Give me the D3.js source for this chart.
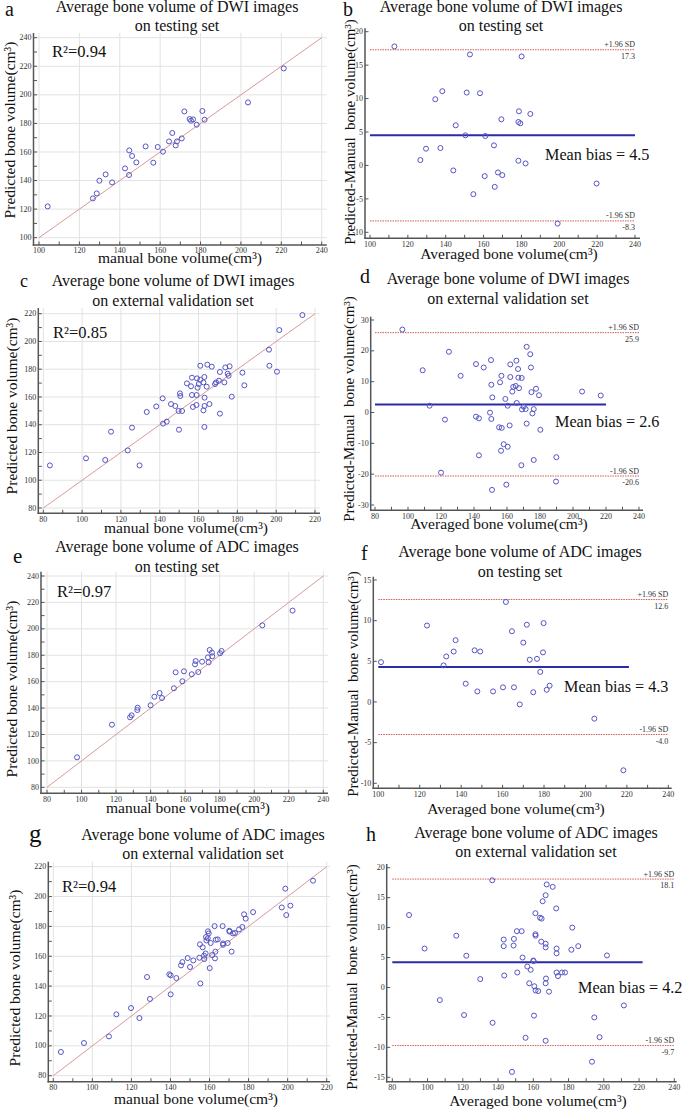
<!DOCTYPE html>
<html><head><meta charset="utf-8">
<script src="https://cdn.jsdelivr.net/npm/d3@7"></script>
<style>
html,body{margin:0;padding:0;background:#fff;}
svg{display:block;font-family:"Liberation Serif","Times New Roman",serif;}
</style></head>
<body><svg id="chart" width="685" height="1111"></svg>
<script>
// ---------------- DATA ----------------
// a: DWI testing set (manual vs predicted)
const aManual = [104.3,126.7,128.6,129.9,133.0,136.2,142.6,144.6,144.7,146.1,148.2,152.8,156.6,158.8,161.4,164.4,166.0,167.7,168.3,170.7,172.0,174.6,175.3,176.3,178.1,180.9,182.0,203.5,221.2];
const aPredicted = [121.9,127.5,131.0,139.9,144.3,138.7,148.5,143.9,161.1,157.2,152.7,163.9,152.5,163.5,160.2,167.4,173.3,164.6,167.4,169.5,188.4,183.1,181.9,182.8,179.1,188.7,182.6,194.7,218.5];
// b: DWI testing set Bland-Altman
const bAverage = [112.9,152.8,180.1,134.5,138.2,151.1,158.1,178.7,184.7,169.4,178.4,179.4,145.3,150.4,160.9,165.5,129.6,137.2,126.6,178.4,182.2,144.0,160.6,167.6,169.9,165.9,154.6,219.7,199.1];
const bDifference = [17.8,16.6,16.3,9.9,11.1,10.9,10.8,8.1,7.7,6.9,6.5,6.3,6.0,4.5,4.4,3.0,2.5,2.6,0.8,0.7,0.3,-0.75,-1.6,-1.05,-1.45,-3.2,-4.3,-2.7,-8.7];
// c: DWI external validation set
const cManual = [83.4,102.0,111.9,114.9,125.7,123.5,129.6,133.3,138.2,141.7,143.6,141.5,145.8,148.0,149.7,151.5,149.9,150.4,150.6,154.0,156.1,156.6,156.6,157.1,159.0,158.9,159.2,159.5,160.1,160.9,160.9,162.5,163.0,163.1,162.5,163.1,163.0,164.2,164.5,165.6,166.8,168.5,169.0,170.5,171.0,171.0,173.3,173.8,175.0,175.5,176.0,177.1,182.6,183.6,196.3,196.5,200.4,201.6,213.5];
const cPredicted = [110.7,115.8,114.6,135.0,137.9,121.5,110.7,149.2,153.2,140.8,142.2,159.0,154.9,153.5,149.9,149.9,136.4,162.6,160.7,169.8,167.7,173.9,161.4,152.8,161.4,154.2,173.4,166.7,169.3,182.5,172.4,170.5,174.4,159.5,150.4,153.5,138.4,167.4,183.3,154.9,181.8,169.3,170.5,171.7,148.0,178.0,170.5,181.3,176.8,175.3,182.1,160.2,177.5,168.4,194.1,182.5,178.2,208.2,219.0];
// d: DWI external validation Bland-Altman
const dAverage = [96.6,108.9,113.1,122.4,124.8,120.0,131.9,141.2,141.2,143.0,143.0,145.9,150.3,150.5,151.1,149.7,150.5,150.9,155.8,156.6,155.2,156.8,158.0,159.0,160.4,160.4,156.4,159.6,161.6,162.0,162.0,163.2,163.8,165.3,165.9,165.7,166.7,166.9,167.3,168.9,168.7,169.1,170.1,171.3,171.9,171.9,174.1,174.5,174.8,175.4,176.2,176.2,177.6,179.4,180.2,189.9,189.7,205.5,216.8];
const dDifference = [26.9,13.7,2.2,-2.3,19.7,-19.5,11.9,15.7,-1.35,-1.9,-13.9,14.6,17.0,9.0,4.9,-0.05,-2.1,-25.1,9.8,11.9,-4.8,-5.0,-10.3,4.4,2.2,-11.1,-12.4,-23.4,-4.2,15.6,11.5,6.8,8.3,8.6,3.1,16.8,14.1,11.3,7.9,11.2,-17.1,1.0,1.9,1.1,21.3,-3.6,18.9,14.6,6.6,-0.3,1.1,-15.4,7.7,5.6,-5.6,-14.5,-22.4,6.8,5.5];
// e: ADC testing set
const eManual = [97.4,117.6,128.1,129.0,132.3,132.5,140.0,142.2,145.2,146.6,153.5,154.5,158.4,159.3,163.8,165.7,166.1,167.6,169.8,173.2,173.6,174.2,175.5,175.7,180.2,181.1,204.7,222.2];
const ePredicted = [102.7,127.4,133.0,134.5,138.5,140.3,142.1,148.6,151.4,147.6,155.0,167.1,160.3,167.8,165.6,173.1,175.6,167.3,175.1,178.4,174.6,184.0,182.0,179.2,181.5,183.2,202.6,213.8];
// f: ADC testing Bland-Altman
const fAverage = [101.3,123.5,131.5,132.8,136.4,137.3,142.2,146.5,147.8,149.2,155.4,160.2,161.6,164.5,165.5,168.3,170.0,171.7,173.1,174.8,176.6,178.2,179.5,179.8,181.3,182.7,204.3,218.3];
const fDifference = [4.9,9.4,4.5,5.6,6.2,7.6,2.25,6.35,1.3,6.2,1.3,1.8,12.3,8.7,1.8,-0.3,7.3,9.5,5.2,1.2,5.3,3.7,6.1,9.7,1.5,2.0,-2.05,-8.4];
// g: ADC external validation set
const gManual = [83.9,95.7,108.5,112.3,119.8,124.1,128.0,129.5,139.4,140.1,140.1,143.0,145.4,146.1,148.8,150.0,151.7,154.8,155.1,155.3,156.5,157.2,157.3,158.0,158.2,158.4,159.2,159.6,159.1,160.1,160.6,161.3,162.6,163.0,162.8,163.2,164.2,166.7,166.9,166.9,169.3,170.1,170.3,171.3,172.0,173.0,175.1,176.8,177.7,178.5,182.3,197.0,198.8,199.3,201.4,213.0];
const gPredicted = [95.9,101.9,106.3,121.1,125.3,118.6,146.1,131.4,147.9,147.2,134.5,145.4,153.9,156.1,158.8,152.8,157.2,159.0,168.0,141.8,166.0,160.4,158.1,161.9,172.9,170.6,176.7,175.3,172.0,152.1,168.9,160.8,180.2,163.1,158.6,171.1,171.3,180.2,168.6,167.7,168.9,177.1,176.5,163.1,175.3,175.6,178.0,179.6,188.1,185.2,189.6,192.7,205.3,187.6,193.9,210.6];
// h: ADC external validation Bland-Altman
const hAverage = [89.5,98.3,107.0,116.3,122.0,120.7,129.9,136.7,136.9,143.2,143.2,143.5,149.0,148.8,147.9,150.7,153.4,150.9,153.9,155.6,156.6,157.7,158.5,160.0,160.2,160.4,160.6,161.2,161.3,161.2,161.3,162.8,163.8,164.7,164.5,165.3,167.0,167.0,167.0,167.2,167.0,167.0,167.6,168.9,171.0,173.0,173.2,173.2,173.2,174.0,176.3,178.0,181.6,185.5,182.1,194.6,197.6,193.3,201.8,211.4];
const hDifference = [12.1,6.5,-2.1,8.65,5.3,-4.6,1.4,17.9,-5.9,8.0,6.9,2.0,8.1,7.0,-14.1,9.4,9.4,2.5,5.0,-8.4,3.5,0.7,2.95,4.5,4.4,-4.7,0.2,12.4,-0.5,8.9,8.65,-0.6,11.65,11.5,7.65,14.4,15.4,7.3,6.7,1.5,0.7,-8.9,17.2,-0.7,16.8,13.2,6.5,5.7,2.5,1.9,2.5,2.5,6.3,6.9,10.0,-5.0,-8.3,-12.4,5.35,-3.0];

// statistics
const r2Labels = ["0.94","0.85","0.97","0.94"];
const meanBias = [4.5, 2.6, 4.3, 4.2];
const upperLoA = [17.3, 25.9, 12.6, 18.1];
const lowerLoA = [-8.3, -20.6, -4.0, -9.7];
const meanLineExtent = [[100,240],[80,220],[100,221],[80,222]];

// tick labels
const ticks100to240 = [100,120,140,160,180,200,220,240];
const ticks80to220 = [80,100,120,140,160,180,200,220];
const ticks80to240 = [80,100,120,140,160,180,200,220,240];
const ticksBdiff = [-10,-5,0,5,10,15,20];
const ticksDdiff = [-30,-20,-10,0,10,20,30];
const ticksFdiff = [-10,-5,0,5,10,15];
const ticksHdiff = [-15,-10,-5,0,5,10,15,20];

const titlesLine1 = ["Average bone volume of DWI images","Average bone volume of DWI images","Average bone volume of DWI images","Average bone volume of DWI images","Average bone volume of ADC images","Average bone volume of ADC images","Average bone volume of ADC images","Average bone volume of ADC images"];
const titlesLine2 = ["on testing set","on testing set","on external validation set","on external validation set","on testing set","on testing set","on external validation set","on external validation set"];
const panelLetters = ["a","b","c","d","e","f","g","h"];

// ---------------- LAYOUT (positions only) ----------------
const layout = [
 {type:"s", xr:[39,321.7], yr:[237.7,37.7], L:33.5,B:245,T:33,R:326.7, tcx:177,ty:[12,31], let:[5,16,20], ylx:15,ylc:130, xlc:180,xly:263, ann:[52,57]},
 {type:"b", xr:[370,635], yr:[232.3,31.7], L:365,B:238.3,T:28.3,R:640, tcx:501,ty:[12,31], let:[343,16,20], ylx:355,ylc:132, xlc:509,xly:258.5, ann:[545,160]},
 {type:"s", xr:[43.3,315], yr:[508,313.7], L:38.3,B:513.3,T:308,R:320, tcx:173,ty:[286,306], let:[20,287,18], ylx:17,ylc:406, xlc:186,xly:532.5, ann:[53,338]},
 {type:"b", xr:[375,639], yr:[505,320], L:370.7,B:510.3,T:316.7,R:643, tcx:508,ty:[284,304], let:[360,283,20], ylx:354,ylc:409, xlc:499,xly:529, ann:[555,427]},
 {type:"s", xr:[47,323.3], yr:[787.3,576], L:41,B:793.3,T:571.7,R:328, tcx:177,ty:[552,572], let:[13,563,21], ylx:17,ylc:689, xlc:188,xly:813, ann:[57,597]},
 {type:"b", xr:[378.3,668.3], yr:[783.3,580], L:373.3,B:788.3,T:576.7,R:671.7, tcx:520,ty:[557,577], let:[361,560,20], ylx:358,ylc:684, xlc:516,xly:814, ann:[564,692]},
 {type:"s", xr:[53.3,326.7], yr:[1075.7,866.7], L:48.3,B:1081.7,T:861.7,R:330, tcx:203,ty:[840,858.5], let:[29,842,25], ylx:20,ylc:978, xlc:196,xly:1103.5, ann:[62,892]},
 {type:"b", xr:[392.3,674.3], yr:[1077.3,867.7], L:386.7,B:1081.7,T:864,R:676.7, tcx:536,ty:[838,857], let:[366,841,20], ylx:357,ylc:977, xlc:538,xly:1105.5, ann:[578,993]}
];

const panelData = [
 {x:aManual, y:aPredicted, xt:ticks100to240, yt:ticks100to240},
 {x:bAverage, y:bDifference, xt:ticks100to240, yt:ticksBdiff, k:0},
 {x:cManual, y:cPredicted, xt:ticks80to220, yt:ticks80to220},
 {x:dAverage, y:dDifference, xt:ticks80to240, yt:ticksDdiff, k:1},
 {x:eManual, y:ePredicted, xt:ticks80to240, yt:ticks80to240},
 {x:fAverage, y:fDifference, xt:ticks100to240, yt:ticksFdiff, k:2},
 {x:gManual, y:gPredicted, xt:ticks80to220, yt:ticks80to220},
 {x:hAverage, y:hDifference, xt:ticks80to240, yt:ticksHdiff, k:3}
];

const svg = d3.select("#chart");
const POINT = "#5555c4";

layout.forEach((L, i) => {
  const D = panelData[i];
  const g = svg.append("g");
  const xs = d3.scaleLinear().domain([D.xt[0], D.xt[D.xt.length-1]]).range(L.xr);
  const ys = d3.scaleLinear().domain([D.yt[0], D.yt[D.yt.length-1]]).range(L.yr);
  const xStep = D.xt[1]-D.xt[0], yStep = D.yt[1]-D.yt[0];
  const xMinor = d3.range(D.xt[0], D.xt[D.xt.length-1]+0.001, xStep/2);
  const yMinor = L.type === "s" ? d3.range(D.yt[0], D.yt[D.yt.length-1]+0.001, yStep/2) : D.yt;

  // grid (scatter only)
  if (L.type === "s") {
    g.append("g").selectAll("line.v").data(D.xt).join("line")
      .attr("x1", d=>xs(d)).attr("x2", d=>xs(d)).attr("y1", L.T).attr("y2", L.B)
      .attr("stroke", "#e2e2e2").attr("stroke-width", 1);
    g.append("g").selectAll("line.h").data(D.yt).join("line")
      .attr("y1", d=>ys(d)).attr("y2", d=>ys(d)).attr("x1", L.L).attr("x2", L.R)
      .attr("stroke", "#e2e2e2").attr("stroke-width", 1);
  }

  // axes lines
  g.append("line").attr("x1", L.L).attr("x2", L.L).attr("y1", L.T).attr("y2", L.B+0.75)
    .attr("stroke", "#555").attr("stroke-width", 1.5);
  g.append("line").attr("x1", L.L-0.75).attr("x2", L.R).attr("y1", L.B).attr("y2", L.B)
    .attr("stroke", "#555").attr("stroke-width", 1.5);

  // ticks (inward)
  g.append("g").selectAll("line").data(xMinor).join("line")
    .attr("x1", d=>xs(d)).attr("x2", d=>xs(d)).attr("y1", L.B).attr("y2", L.B-3.5)
    .attr("stroke", "#555").attr("stroke-width", 1);
  g.append("g").selectAll("line").data(yMinor).join("line")
    .attr("y1", d=>ys(d)).attr("y2", d=>ys(d)).attr("x1", L.L).attr("x2", L.L+3.5)
    .attr("stroke", "#555").attr("stroke-width", 1);

  // tick labels
  g.append("g").selectAll("text").data(D.xt).join("text")
    .attr("x", d=>xs(d)).attr("y", L.B+8.3).attr("text-anchor","middle")
    .attr("font-size", 8).attr("fill", "#333").text(d=>d);
  g.append("g").selectAll("text").data(D.yt).join("text")
    .attr("x", L.L-2).attr("y", d=>ys(d)).attr("dy","0.33em").attr("text-anchor","end")
    .attr("font-size", 8).attr("fill", "#333").text(d=>d);

  if (L.type === "s") {
    const lo = D.xt[0], hi = D.xt[D.xt.length-1];
    g.append("line").attr("x1", xs(lo)).attr("y1", ys(lo)).attr("x2", xs(hi)).attr("y2", ys(hi))
      .attr("stroke", "#d79a9a").attr("stroke-width", 1);
    g.append("text").attr("x", L.ann[0]).attr("y", L.ann[1]).attr("font-size", 16.5).attr("fill","#111")
      .text("R²=" + r2Labels[Math.floor(i/2)]);
  } else {
    const k = D.k;
    const x0 = xs(D.xt[0]), x1 = xs(D.xt[D.xt.length-1]);
    [upperLoA[k], lowerLoA[k]].forEach((v, j) => {
      g.append("line").attr("x1", x0).attr("x2", x1).attr("y1", ys(v)).attr("y2", ys(v))
        .attr("stroke", "#d45a5a").attr("stroke-width", 1).attr("stroke-dasharray", "1.5 1");
      g.append("text").attr("x", x1).attr("y", ys(v)-2.5).attr("text-anchor","end")
        .attr("font-size", 8).attr("fill","#333").text(j===0 ? "+1.96 SD" : "-1.96 SD");
      g.append("text").attr("x", x1).attr("y", ys(v)+9).attr("text-anchor","end")
        .attr("font-size", 8).attr("fill","#333").text(v.toFixed(1));
    });
    g.append("line").attr("x1", xs(meanLineExtent[k][0])).attr("x2", xs(meanLineExtent[k][1]))
      .attr("y1", ys(meanBias[k])).attr("y2", ys(meanBias[k]))
      .attr("stroke", "#2b2ba6").attr("stroke-width", 2);
    g.append("text").attr("x", L.ann[0]).attr("y", L.ann[1]).attr("font-size", 16.2).attr("fill","#111")
      .text("Mean bias = " + meanBias[k].toFixed(1));
  }

  // points
  g.append("g").selectAll("circle").data(D.x.map((v, j) => [v, D.y[j]])).join("circle")
    .attr("cx", d=>xs(d[0])).attr("cy", d=>ys(d[1])).attr("r", 2.5)
    .attr("fill", "none").attr("stroke", POINT).attr("stroke-width", 1);

  // titles
  g.append("text").attr("x", L.tcx).attr("y", L.ty[0]).attr("text-anchor","middle")
    .attr("font-size", 16).attr("fill","#111").text(titlesLine1[i]);
  g.append("text").attr("x", L.tcx).attr("y", L.ty[1]).attr("text-anchor","middle")
    .attr("font-size", 16).attr("fill","#111").text(titlesLine2[i]);
  g.append("text").attr("x", L.let[0]).attr("y", L.let[1]).attr("font-size", L.let[2]).attr("fill","#111")
    .text(panelLetters[i]);

  // axis titles
  const yTitle = L.type === "s" ? "Predicted bone volume(cm³)" : "Predicted-Manual  bone volume(cm³)";
  const xTitle = L.type === "s" ? "manual bone volume(cm³)" : "Averaged bone volume(cm³)";
  g.append("text").attr("transform", `translate(${L.ylx},${L.ylc}) rotate(-90)`)
    .attr("text-anchor","middle").attr("font-size", L.type === "s" ? 15.5 : 15).attr("fill","#111")
    .attr("xml:space","preserve").style("white-space","pre").text(yTitle);
  g.append("text").attr("x", L.xlc).attr("y", L.xly).attr("text-anchor","middle")
    .attr("font-size", 15.5).attr("fill","#111").text(xTitle);
});
</script>
</body></html>
